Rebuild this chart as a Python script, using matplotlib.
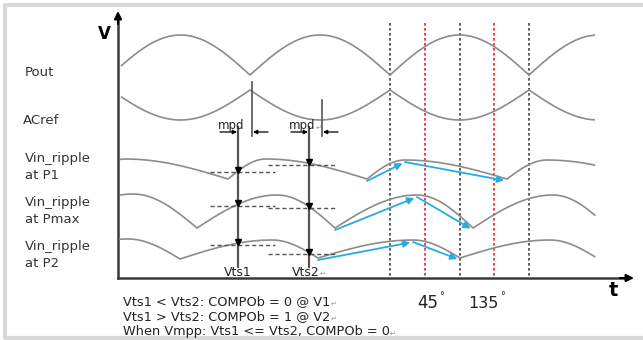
import numpy as np
import matplotlib.pyplot as plt

# rectified waves (Pout, ACref): cusp positions along t and their levels
cusp_t = [111, 250, 390, 529, 668]
pout_cusp, pout_crest = 75, 35
acref_cusp, acref_crest = 90, 120

# Vin ripple turning points, alternating trough / peak
p1_t = [88, 125, 228, 266, 367, 405, 507, 547, 647]
p1_v = [179, 159, 179, 159, 179, 160, 179, 160, 179]
pmax_t = [52, 133, 197, 277, 335, 417, 473, 553, 609]
pmax_v = [228, 194, 228, 195, 228, 195, 228, 195, 228]
p2_t = [35, 128, 180, 272, 318, 413, 460, 550, 597]
p2_v = [259, 239, 259, 240, 258, 240, 258, 240, 258]

ripple_names = ["Vin_ripple\nat P1", "Vin_ripple\nat Pmax", "Vin_ripple\nat P2"]
sample_t = [238, 309]          # Vts1, Vts2
sample_names = ["Vts1", "Vts2"]
acref_t = [252, 322]           # ACref edges, mpd before the samples
phase_deg = [0, 45, 90, 135, 180]

notes = ["Vts1 < Vts2: COMPOb = 0 @ V1",
         "Vts1 > Vts2: COMPOb = 1 @ V2",
         "When Vmpp: Vts1 <= Vts2, COMPOb = 0"]

T0, T1 = 120, 595
GRAY = "#8c8c8c"
DARK = "#3a3a3a"
BLUE = "#29aae1"


def rectified(cusp, crest):
    xs, ys = [], []
    for a, b in zip(cusp_t[:-1], cusp_t[1:]):
        s = np.linspace(0, 1, 80)
        xs.append(a + (b - a) * s)
        ys.append(cusp + (crest - cusp) * np.sin(np.pi * s))
    x, y = np.concatenate(xs), np.concatenate(ys)
    m = (x >= T0) & (x <= T1)
    return x[m], y[m]


def ripple(ts, vs):
    xs, ys = [], []
    for x0, y0, x1, y1 in zip(ts[:-1], vs[:-1], ts[1:], vs[1:]):
        s = np.linspace(0, 1, 60)
        if y1 < y0:   # rising: steep from the trough, flat at the peak
            f = np.sin(np.pi / 2 * s)
        else:         # falling: flat from the peak, steep into the trough
            f = 1 - np.cos(np.pi / 2 * s)
        xs.append(x0 + (x1 - x0) * s)
        ys.append(y0 + (y1 - y0) * f)
    x, y = np.concatenate(xs), np.concatenate(ys)
    m = (x >= T0) & (x <= T1)
    return x[m], y[m]


fig = plt.figure(figsize=(6.43, 3.4), dpi=100)
ax = fig.add_axes([0, 0, 1, 1])
ax.set_xlim(0, 643)
ax.set_ylim(340, 0)
ax.axis("off")

# light frame (open at the right)
ax.plot([643, 5, 5, 643], [5, 5, 338, 338], color="#d9d9d9", lw=3, solid_capstyle="butt")

# axes with arrows
ax.plot([118, 118], [278, 20], color=DARK, lw=1.8)
ax.plot([118, 625], [278, 278], color=DARK, lw=1.8)
ax.annotate("", xy=(118, 11), xytext=(118, 24),
            arrowprops=dict(arrowstyle="-|>", color="black", lw=1.5, mutation_scale=11,
                            shrinkA=0, shrinkB=0))
ax.annotate("", xy=(634, 278), xytext=(620, 278),
            arrowprops=dict(arrowstyle="-|>", color="black", lw=1.5, mutation_scale=11,
                            shrinkA=0, shrinkB=0))
ax.text(104, 34, "V", fontsize=12, fontweight="bold", ha="center", va="center")
ax.text(613, 291, "t", fontsize=14, fontweight="bold", ha="center", va="center")

# phase reference lines
half = cusp_t[3] - cusp_t[2]
for d in phase_deg:
    x = cusp_t[2] + half * d / 180
    col = "#444444" if d % 90 == 0 else "#e8262b"
    ax.plot([x, x], [23, 278], color=col, lw=1.2, ls=(0, (1.6, 1.4)))
ax.text(417, 303, "45", fontsize=12, ha="left", va="center", color="#222")
ax.text(439, 296, "°", fontsize=7, ha="left", va="center", color="#222")
ax.text(468, 303, "135", fontsize=11.5, ha="left", va="center", color="#222")
ax.text(500, 296, "°", fontsize=7, ha="left", va="center", color="#222")

# Pout and ACref
x, y = rectified(pout_cusp, pout_crest)
ax.plot(x, y, color=GRAY, lw=1.2)
x, y = rectified(acref_cusp, acref_crest)
ax.plot(x, y, color=GRAY, lw=1.2)

lab = dict(fontsize=9.5, color="#333", ha="left", va="center", linespacing=1.45)
ax.text(25, 73, "Pout", **lab)
ax.text(23, 121, "ACref", **lab)

# sample lines and mpd markers
for ts, ta in zip(sample_t, acref_t):
    ax.plot([ts, ts], [127, 267], color="#555", lw=1.6)
    ax.plot([ta, ta], [82 if ta < 300 else 100, 136], color="#555", lw=1.2)
    ap = dict(arrowstyle="-|>", color="black", lw=0.9, mutation_scale=6, shrinkA=0, shrinkB=0)
    ax.annotate("", xy=(ts - 1, 132), xytext=(ts - 18, 132), arrowprops=ap)
    ax.annotate("", xy=(ta + 1, 132), xytext=(ta + 16, 132), arrowprops=ap)
t_mpd = []
for ts in sample_t:
    t_mpd.append(ax.text(ts - 7, 126, "mpd", fontsize=8.5, ha="center", va="center", color="#222"))
ax.annotate("↵", xy=(1, 0.4), xycoords=t_mpd[1], fontsize=5, color="#999", va="center")

for ts, name in zip(sample_t, sample_names):
    t = ax.text(ts - 3 if name == "Vts2" else ts, 272, name, fontsize=9, ha="center",
                va="center", color="#222")
    if name == "Vts2":
        ax.annotate("↵", xy=(1, 0.4), xycoords=t, fontsize=5, color="#999", va="center")

# Vin ripple curves
win = [(-28, 37), (-41, 26)]
for (ts_, vs_), name, ly in zip([(p1_t, p1_v), (pmax_t, pmax_v), (p2_t, p2_v)],
                                ripple_names, [167, 211, 255]):
    x, y = ripple(ts_, vs_)
    ax.plot(x, y, color=GRAY, lw=1.2)
    ax.text(25, ly, name, **lab)
    for ts, (a, b) in zip(sample_t, win):
        yv = np.interp(ts, x, y)
        ax.plot([ts + a, ts + b], [yv + 1.5, yv + 1.5], color="#555", lw=1, ls=(0, (3, 2)))
        ax.plot(ts, yv - 1, marker="v", ms=5, color="black", mec="black")
    for i, j in [(4, 5), (5, 6)]:
        ax.annotate("", xy=(ts_[j], vs_[j] + 2), xytext=(ts_[i], vs_[i] + 2),
                    arrowprops=dict(arrowstyle="-|>", color=BLUE, lw=1.3, mutation_scale=10,
                                    shrinkA=0, shrinkB=2))

for k, s in enumerate(notes):
    t = ax.text(123, 302 + 15 * k, s, fontsize=9.3, ha="left", va="center", color="#222")
    ax.annotate("↵", xy=(1, 0.4), xycoords=t, fontsize=5, color="#999", va="center")

fig.savefig("out.png", dpi=100)
